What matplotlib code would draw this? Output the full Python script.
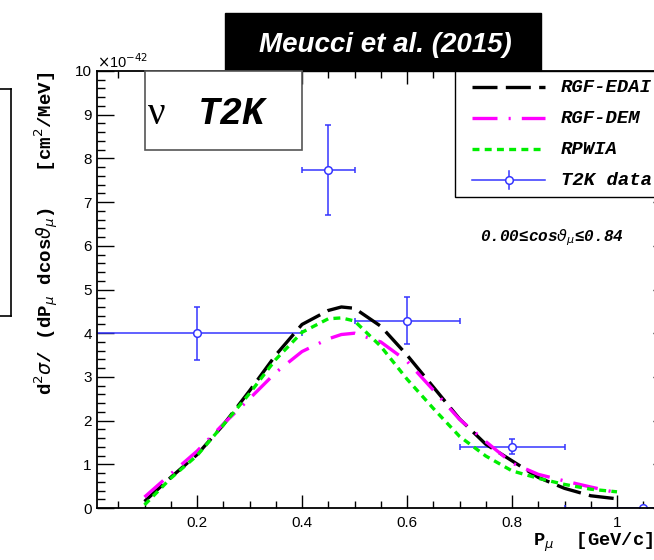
import matplotlib
matplotlib.use("Agg")
import matplotlib.pyplot as plt
from matplotlib.lines import Line2D
from matplotlib.patches import Rectangle
from matplotlib.ticker import MultipleLocator, FixedLocator

plt.rcParams["lines.scale_dashes"] = False
plt.rcParams["font.family"] = ["Liberation Sans", "DejaVu Sans"]

# Muon momentum grid for the model curves [GeV/c]
p_mu = [0.10, 0.15, 0.20, 0.25, 0.30, 0.35, 0.40, 0.45, 0.475, 0.50,
        0.55, 0.60, 0.65, 0.70, 0.75, 0.80, 0.85, 0.90, 0.95, 1.00]

# Cross sections in units of 1e-42 cm^2/MeV
rgf_edai = [0.15, 0.70, 1.22, 1.90, 2.68, 3.50, 4.20, 4.52, 4.60, 4.57,
            4.16, 3.50, 2.77, 2.04, 1.46, 1.08, 0.70, 0.45, 0.28, 0.21]
rgf_dem = [0.25, 0.78, 1.30, 1.92, 2.50, 3.10, 3.58, 3.87, 3.97, 4.00,
           3.80, 3.36, 2.70, 2.03, 1.52, 1.03, 0.77, 0.62, 0.48, 0.35]
rpwia = [0.07, 0.68, 1.20, 1.90, 2.62, 3.40, 4.02, 4.33, 4.35, 4.28,
         3.70, 2.95, 2.28, 1.64, 1.19, 0.85, 0.68, 0.54, 0.43, 0.37]

# T2K data: bin centres, half widths, values and errors
t2k_p = [0.20, 0.45, 0.60, 0.80, 1.05]
t2k_dp = [0.20, 0.05, 0.10, 0.10, 0.15]
t2k_xs = [4.00, 7.73, 4.29, 1.40, 0.00]
t2k_err = [0.61, 1.03, 0.53, 0.17, 0.03]

x_ticks = [0.2, 0.4, 0.6, 0.8, 1.0]
x_tick_labels = ["0.2", "0.4", "0.6", "0.8", "1"]
y_ticks = list(range(0, 11))

W, H = 654, 560
fig = plt.figure(figsize=(W / 100, H / 100), dpi=100)


def fx(px):
    return px / W


def fy(py):
    return 1 - py / H


ax = fig.add_axes([fx(97.25), fy(508), fx(669.5) - fx(97.25), fy(71) - fy(508)])

mono_bi = dict(family=["Liberation Mono", "DejaVu Sans Mono"], weight="bold", style="italic")
mono_b = dict(family=["Liberation Mono", "DejaVu Sans Mono"], weight="bold")

blue = "#3535ff"
style_edai = dict(color="black", lw=2.4, dashes=(18, 6))
style_dem = dict(color="#ff00ff", lw=2.4, dashes=(18, 8, 1.5, 8))
style_rpwia = dict(color="#00ee00", lw=2.4, dashes=(5, 3.8))

ax.errorbar(t2k_p, t2k_xs, xerr=t2k_dp, yerr=t2k_err, fmt="o", color=blue,
            ms=5.5, mfc="white", mec=blue, mew=1.1, elinewidth=1.1,
            capsize=2.2, capthick=1.1, zorder=2)
ax.plot(p_mu, rgf_edai, zorder=3, **style_edai)
ax.plot(p_mu, rgf_dem, zorder=4, **style_dem)
ax.plot(p_mu, rpwia, zorder=5, **style_rpwia)

ax.set_xlim(0.01, 1.1)
ax.set_ylim(0, 10)
ax.xaxis.set_major_locator(FixedLocator(x_ticks))
ax.set_xticklabels(x_tick_labels)
ax.xaxis.set_minor_locator(MultipleLocator(0.05))
ax.set_yticks(y_ticks)
ax.yaxis.set_minor_locator(MultipleLocator(0.2))

ax.tick_params(which="both", direction="in", top=True, right=True,
               labelsize=11, width=1.0, color="black")
ax.tick_params(axis="x", which="major", length=9.4, pad=5.5)
ax.tick_params(axis="x", which="minor", length=5.0)
ax.tick_params(axis="y", which="major", length=12.2, pad=4.0)
ax.tick_params(axis="y", which="minor", length=5.8)
for s in ax.spines.values():
    s.set_linewidth(1.3)

ax.text(0.0, 1.0, r"$\times$10$^{-42}$", transform=ax.transAxes,
        ha="left", va="bottom", fontsize=10.5)

# Axis titles
fig.text(fx(47), fy(233),
         r"d$^2\sigma$/ (dP$_\mu$ dcos$\vartheta_\mu$)   [cm$^2$/MeV]",
         rotation=90, ha="center", va="center", fontsize=13.8, **mono_b)
fig.text(fx(653), fy(546), r"P$_\mu$  [GeV/c]", ha="right",
         va="baseline", fontsize=13.5, **mono_b)

# Title banner
fig.add_artist(Rectangle((fx(225), fy(71)), fx(541) - fx(225), fy(13) - fy(71),
                         transform=fig.transFigure, facecolor="black",
                         edgecolor="black", zorder=6))
fig.text(fx(385), fy(52), "Meucci et al. (2015)", color="white",
         ha="center", va="baseline", fontsize=20, weight="bold",
         style="italic", zorder=7)

# Neutrino / experiment box
fig.add_artist(Rectangle((fx(145), fy(150)), fx(302) - fx(145), fy(71) - fy(150),
                         transform=fig.transFigure, facecolor="white",
                         edgecolor="#555555", lw=1.2, zorder=6))
fig.text(fx(148), fy(124), "ν", ha="left", va="baseline", fontsize=28,
         family=["Liberation Serif", "DejaVu Serif"], zorder=7)
fig.text(fx(198), fy(124), "T2K", ha="left", va="baseline", fontsize=27,
         zorder=7, **mono_bi)

# Legend
fig.add_artist(Rectangle((fx(455), fy(197)), fx(720) - fx(455), fy(71) - fy(197),
                         transform=fig.transFigure, facecolor="white",
                         edgecolor="black", lw=1.0, zorder=6))
entries = [("RGF-EDAI", style_edai), ("RGF-DEM", style_dem),
           ("RPWIA", style_rpwia), ("T2K data", None)]
for i, (label, st) in enumerate(entries):
    yy = fy(87.3 + 31 * i)
    if st is not None:
        fig.add_artist(Line2D([fx(472), fx(545)], [yy, yy],
                              transform=fig.transFigure, zorder=7, **st))
    else:
        fig.add_artist(Line2D([fx(472), fx(545)], [yy, yy], color=blue,
                              lw=1.1, transform=fig.transFigure, zorder=7))
        fig.add_artist(Line2D([fx(509), fx(509)], [yy - 9 / H, yy + 9 / H],
                              color=blue, lw=1.1, transform=fig.transFigure,
                              zorder=7))
        fig.add_artist(Line2D([fx(509)], [yy], marker="o", ms=5.5, mfc="white",
                              mec=blue, mew=1.1, transform=fig.transFigure,
                              zorder=8))
    fig.text(fx(561), yy, label, ha="left", va="center", fontsize=13.6,
             zorder=8, **mono_bi)

fig.text(fx(480), fy(238), r"0.00≤cos$\vartheta_\mu$≤0.84", ha="left",
         va="center", fontsize=11.5, **mono_bi)

# Edge of the neighbouring panel frame
for xs, ys in [([0, 11], [89, 89]), ([11, 11], [89, 316]), ([0, 11], [316, 316])]:
    fig.add_artist(Line2D([fx(v) for v in xs], [fy(v) for v in ys],
                          color="black", lw=1.2, transform=fig.transFigure))

fig.savefig("out.png", dpi=100)
